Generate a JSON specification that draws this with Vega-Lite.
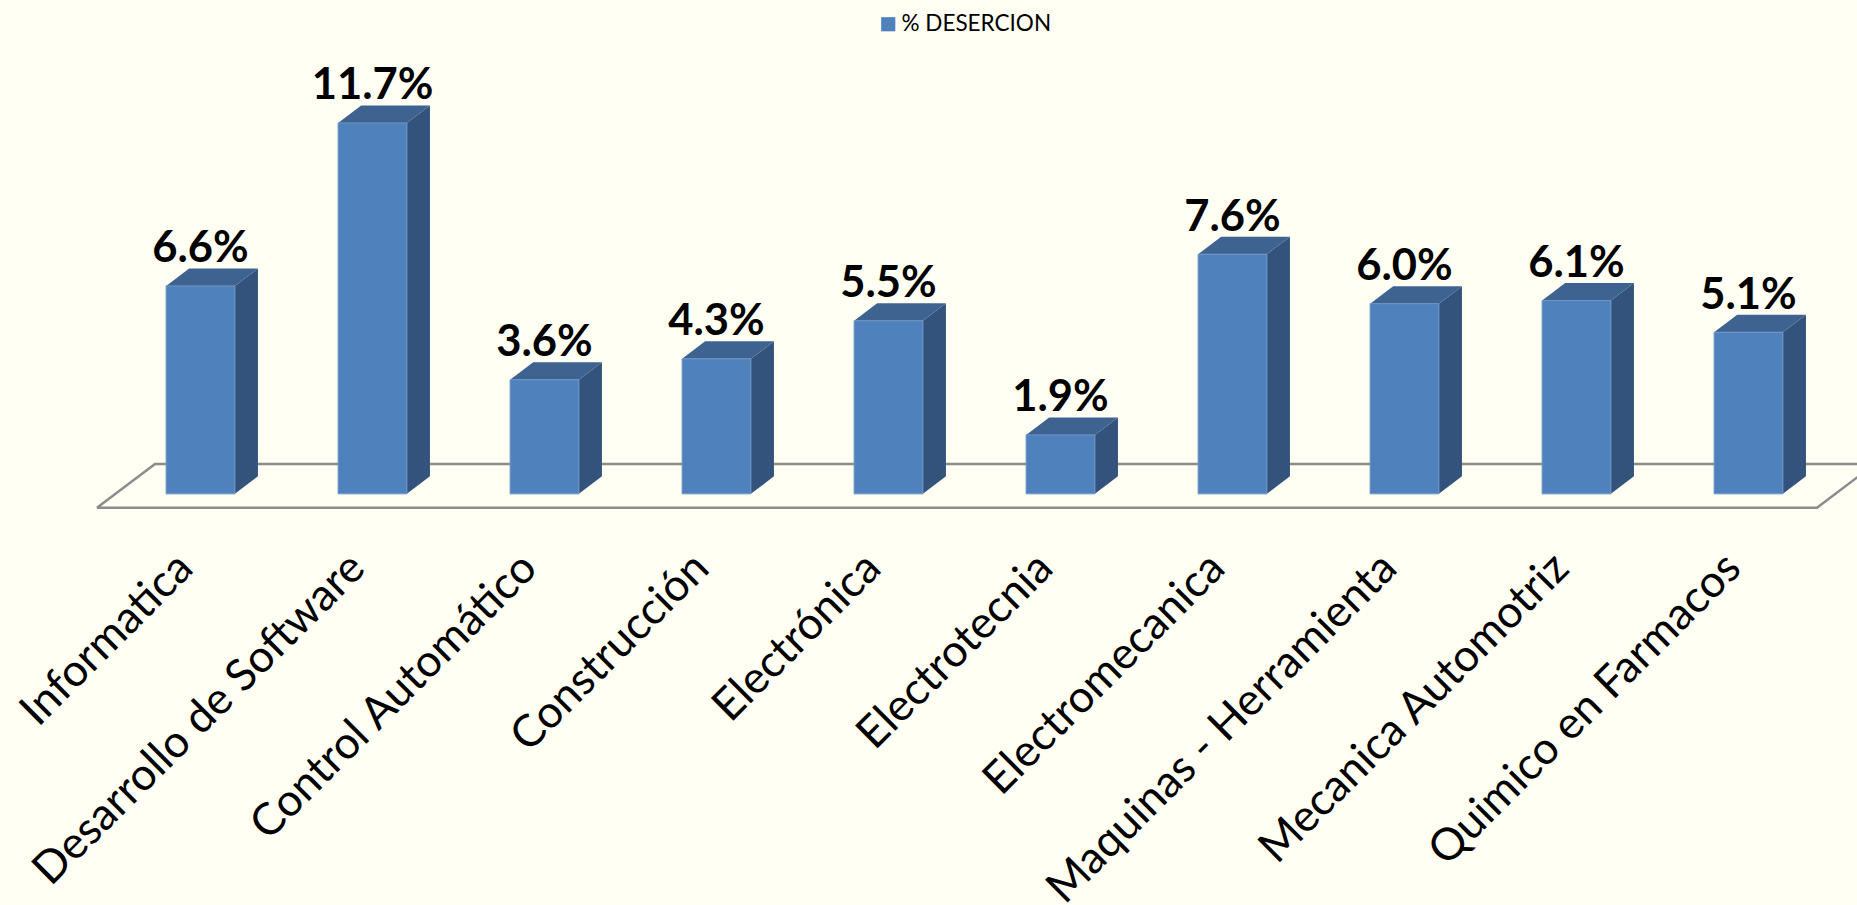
{
"$schema":"https://vega.github.io/schema/vega-lite/v6.json",
"width":1857,"height":905,"padding":0,"autosize":{"type":"none"},
"background":"#FFFFF3",
"config":{"view":{"stroke":null}},
"datasets":{"floor":[{"a":-0.602,"b":-0.0044,"o":0},{"a":9.398,"b":-0.0044,"o":1},{"a":9.735,"b":0.00946,"o":2},{"a":-0.2645,"b":0.00946,"o":3},{"a":-0.602,"b":-0.0044,"o":4}]},
"data":{"values":[
{"carrera":"Informatica","v":0.0656},
{"carrera":"Desarrollo de Software","v":0.117},
{"carrera":"Control Automático","v":0.036},
{"carrera":"Construcción","v":0.0426},
{"carrera":"Electrónica","v":0.0546},
{"carrera":"Electrotecnia","v":0.0186},
{"carrera":"Electromecanica","v":0.0756},
{"carrera":"Maquinas - Herramienta","v":0.060},
{"carrera":"Mecanica Automotriz","v":0.061},
{"carrera":"Quimico en Farmacos","v":0.051}
]},
"transform":[{"window":[{"op":"row_number","as":"n"}]},{"calculate":"datum.n-1","as":"i"}],
"layer":[
{"data":{"name":"floor"},"transform":[],
 "mark":{"type":"line","color":"#8C8C8C","strokeWidth":2.5,"clip":true},
 "encoding":{
  "x":{"field":"a","type":"quantitative","scale":{"domain":[-1.1657,9.6308],"nice":false,"zero":false},
   "axis":{"title":null,"values":[0,1,2,3,4,5,6,7,8,9],"grid":false,"domain":false,"ticks":false,"orient":"bottom","offset":-344,"labelOffset":-15,"labelAngle":-45,"labelAlign":"right","labelBaseline":"middle","labelFont":"Lato","labelFontSize":44.5,"labelColor":"#000000","labelPadding":0,"labelOverlap":false,"labelBound":false,"labelFlush":false,"labelLimit":2000,
   "labelExpr":"['Informatica','Desarrollo de Software','Control Automático','Construcción','Electrónica','Electrotecnia','Electromecanica','Maquinas - Herramienta','Mecanica Automotriz','Quimico en Farmacos'][datum.value]"}},
  "y":{"field":"b","type":"quantitative","scale":{"domain":[-0.1297,0.1558],"nice":false,"zero":false},"axis":null},
  "order":{"field":"o"}}},
{"transform":[{"calculate":"[0,1]","as":"t"},{"flatten":["t"]},{"calculate":"datum.i+0.2+0.134*datum.t","as":"sx"},{"calculate":"0.00552*datum.t","as":"sy0"},{"calculate":"datum.v+0.00552*datum.t","as":"sy1"}],
 "mark":{"type":"area","color":"#33537C","orient":"vertical"},
 "encoding":{
  "x":{"field":"sx","type":"quantitative"},
  "y":{"field":"sy0","type":"quantitative"},
  "y2":{"field":"sy1"},
  "detail":{"field":"carrera"}}},
{"transform":[{"calculate":"[0,1]","as":"t"},{"flatten":["t"]},{"calculate":"datum.i-0.2+0.134*datum.t","as":"tx0"},{"calculate":"datum.i+0.2+0.134*datum.t","as":"tx1"},{"calculate":"datum.v+0.00552*datum.t","as":"ty"}],
 "mark":{"type":"area","color":"#3E6391","orient":"horizontal"},
 "encoding":{
  "y":{"field":"ty","type":"quantitative"},
  "x":{"field":"tx0","type":"quantitative"},
  "x2":{"field":"tx1"},
  "detail":{"field":"carrera"}}},
{"transform":[{"calculate":"datum.i-0.2","as":"l"},{"calculate":"datum.i+0.2","as":"r"}],
 "mark":{"type":"rect","stroke":"#6E95C6","strokeWidth":1},
 "encoding":{
  "x":{"field":"l","type":"quantitative"},
  "x2":{"field":"r"},
  "y":{"field":"v","type":"quantitative"},
  "y2":{"datum":0},
  "color":{"datum":"% DESERCION","type":"nominal","scale":{"range":["#4F81BD"]},
   "legend":{"title":null,"orient":"none","legendX":877,"legendY":13,"symbolType":"square","symbolSize":200,"labelFont":"Lato","labelFontSize":22.5,"labelOffset":2,"labelColor":"#000000","symbolStrokeWidth":0}}}},
{"transform":[{"calculate":"datum.v+0.00552","as":"ly"}],
 "mark":{"type":"text","font":"Lato","fontWeight":"bold","fontSize":43.5,"color":"#000000","baseline":"bottom","align":"center","dy":3},
 "encoding":{
  "x":{"field":"i","type":"quantitative"},
  "y":{"field":"ly","type":"quantitative"},
  "text":{"field":"v","type":"quantitative","format":".1%"}}}
]
}
